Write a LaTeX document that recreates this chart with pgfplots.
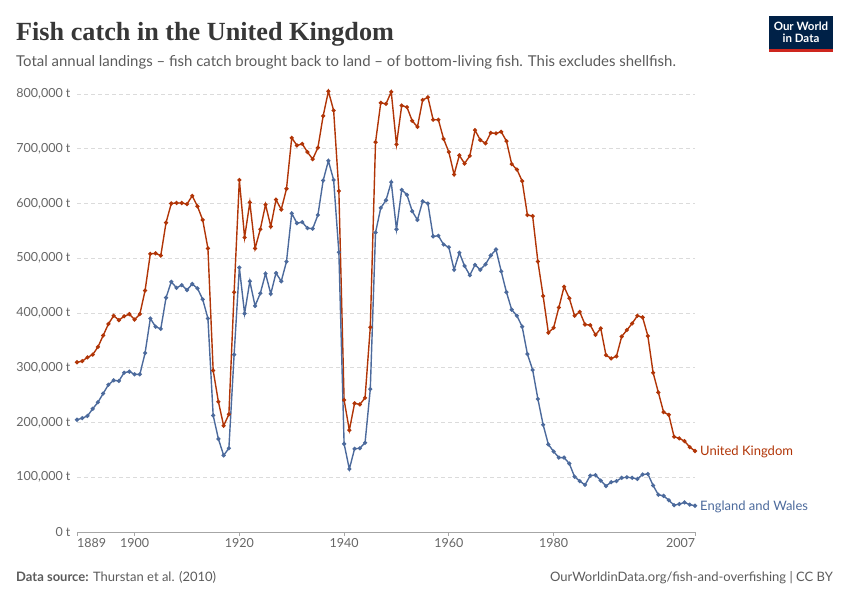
\documentclass[border=0pt]{standalone}
\usepackage{pgfplots}
\pgfplotsset{compat=1.18}
\usepackage{fontspec}
\setmainfont{Lato}
\newfontfamily\titlefont{Liberation Serif}
\definecolor{ukred}{HTML}{B13507}
\definecolor{ewblue}{HTML}{4C6A9C}
\definecolor{owidnavy}{HTML}{002147}
\definecolor{owidred}{HTML}{CE261E}
\definecolor{txtgray}{HTML}{5B5B5B}
\definecolor{tickgray}{HTML}{666666}
\definecolor{titlegray}{HTML}{373737}
\begin{document}
\begin{tikzpicture}
\path[use as bounding box] (0pt,0pt) rectangle (850pt,-600pt);
% title block
\node[anchor=base west, inner sep=0pt, text=titlegray] at (16pt,-40pt) {\titlefont\bfseries\fontsize{26.2}{30}\selectfont Fish catch in the United Kingdom};
\node[anchor=base west, inner sep=0pt, text=txtgray] at (16pt,-66pt) {\fontsize{14.95}{17}\selectfont Total annual landings -- fish catch brought back to land -- of bottom-living fish. This excludes shellfish.};
% logo
\fill[owidnavy] (769pt,-16pt) rectangle (833pt,-49pt);
\fill[owidred] (769pt,-49pt) rectangle (833pt,-51.5pt);
\node[text=white, align=center, inner sep=0pt, font=\bfseries\fontsize{11.5}{12.5}\selectfont] at (801pt,-32.5pt) {Our World\\in Data};
% footer
\node[anchor=base west, inner sep=0pt, text=txtgray] at (16pt,-581pt) {\fontsize{13}{15}\selectfont\textbf{Data source:} Thurstan et al. (2010)};
\node[anchor=base east, inner sep=0pt, text=txtgray] at (833pt,-581pt) {\fontsize{13}{15}\selectfont OurWorldinData.org/fish-and-overfishing | CC BY};
\begin{axis}[
  at={(77pt,-532pt)}, anchor=south west,
  scale only axis, width=618pt, height=438pt,
  xmin=1889, xmax=2007, ymin=0, ymax=800000,
  clip=false,
  axis x line*=bottom, axis y line*=left,
  x axis line style={-, draw=gray!70, line width=0.8pt},
  y axis line style={draw=none},
  xtick={1889,1900,1920,1940,1960,1980,2007},
  xticklabels={\rlap{1889},1900,1920,1940,1960,1980,\llap{2007}},
  tick align=outside, major tick length=4pt,
  xtick style={draw=gray!70, line width=0.8pt},
  xticklabel style={text=tickgray, font=\fontsize{12.5}{14}\selectfont, yshift=1pt},
  ytick={0,100000,200000,300000,400000,500000,600000,700000,800000},
  yticklabels={{0 t},{100,000 t},{200,000 t},{300,000 t},{400,000 t},{500,000 t},{600,000 t},{700,000 t},{800,000 t}},
  yticklabel style={text=tickgray, font=\fontsize{12.5}{14}\selectfont, anchor=east, xshift=1pt},
  scaled y ticks=false,
  ymajorgrids, grid style={draw=gray!28, line width=0.8pt, dash pattern=on 4pt off 3pt},
  ytick style={draw=none},
  every axis plot/.append style={line width=1.4pt, mark=*, mark size=1.3pt},
]
\addplot[color=ukred, mark options={fill=ukred, draw=ukred}] coordinates {
(1889,310000)(1890,312000)(1891,319000)(1892,324000)(1893,338000)(1894,359000)(1895,380000)(1896,395000)(1897,387000)(1898,394000)
(1899,398000)(1900,388000)(1901,398000)(1902,441000)(1903,508000)(1904,509000)(1905,505000)(1906,565000)(1907,600000)(1908,601000)
(1909,601000)(1910,599000)(1911,614000)(1912,595000)(1913,570000)(1914,518000)(1915,295000)(1916,238000)(1917,194000)(1918,215000)
(1919,438000)(1920,643000)(1921,538000)(1922,602000)(1923,518000)(1924,553000)(1925,598000)(1926,558000)(1927,607000)(1928,589000)
(1929,627000)(1930,720000)(1931,706000)(1932,709000)(1933,694000)(1934,681000)(1935,702000)(1936,760000)(1937,805000)(1938,770000)
(1939,623000)(1940,241000)(1941,186000)(1942,235000)(1943,233000)(1944,245000)(1945,374000)(1946,712000)(1947,784000)(1948,782000)
(1949,804000)(1950,708000)(1951,779000)(1952,776000)(1953,751000)(1954,740000)(1955,789000)(1956,794000)(1957,753000)(1958,753000)
(1959,718000)(1960,694000)(1961,653000)(1962,688000)(1963,673000)(1964,687000)(1965,734000)(1966,716000)(1967,710000)(1968,729000)
(1969,728000)(1970,731000)(1971,714000)(1972,672000)(1973,662000)(1974,641000)(1975,579000)(1976,577000)(1977,494000)(1978,431000)
(1979,364000)(1980,373000)(1981,410000)(1982,448000)(1983,427000)(1984,395000)(1985,402000)(1986,379000)(1987,378000)(1988,360000)
(1989,372000)(1990,323000)(1991,317000)(1992,321000)(1993,357000)(1994,369000)(1995,381000)(1996,395000)(1997,392000)(1998,358000)
(1999,291000)(2000,255000)(2001,219000)(2002,214000)(2003,174000)(2004,171000)(2005,166000)(2006,155000)(2007,148000)
};
\addplot[color=ewblue, mark options={fill=ewblue, draw=ewblue}] coordinates {
(1889,205000)(1890,208000)(1891,212000)(1892,225000)(1893,237000)(1894,253000)(1895,269000)(1896,277000)(1897,276000)(1898,291000)
(1899,293000)(1900,288000)(1901,288000)(1902,327000)(1903,390000)(1904,375000)(1905,371000)(1906,428000)(1907,457000)(1908,446000)
(1909,451000)(1910,442000)(1911,453000)(1912,445000)(1913,425000)(1914,390000)(1915,213000)(1916,170000)(1917,140000)(1918,153000)
(1919,324000)(1920,483000)(1921,399000)(1922,458000)(1923,413000)(1924,436000)(1925,472000)(1926,435000)(1927,473000)(1928,458000)
(1929,494000)(1930,582000)(1931,564000)(1932,566000)(1933,555000)(1934,554000)(1935,579000)(1936,642000)(1937,678000)(1938,643000)
(1939,511000)(1940,161000)(1941,115000)(1942,152000)(1943,153000)(1944,163000)(1945,261000)(1946,547000)(1947,592000)(1948,606000)
(1949,639000)(1950,553000)(1951,625000)(1952,616000)(1953,586000)(1954,570000)(1955,604000)(1956,600000)(1957,540000)(1958,541000)
(1959,525000)(1960,520000)(1961,479000)(1962,510000)(1963,486000)(1964,469000)(1965,488000)(1966,479000)(1967,489000)(1968,505000)
(1969,516000)(1970,476000)(1971,438000)(1972,406000)(1973,395000)(1974,375000)(1975,325000)(1976,296000)(1977,243000)(1978,196000)
(1979,160000)(1980,147000)(1981,136000)(1982,136000)(1983,125000)(1984,101000)(1985,93000)(1986,86000)(1987,103000)(1988,104000)
(1989,94000)(1990,84000)(1991,91000)(1992,93000)(1993,99000)(1994,100000)(1995,99000)(1996,97000)(1997,105000)(1998,106000)
(1999,85000)(2000,68000)(2001,66000)(2002,58000)(2003,49000)(2004,51000)(2005,54000)(2006,50000)(2007,48000)
};
\node[anchor=west, text=ukred, inner sep=0pt, font=\fontsize{13}{15}\selectfont] at (axis cs:2007,146000) {\hspace{5pt}United Kingdom};
\node[anchor=west, text=ewblue, inner sep=0pt, font=\fontsize{13}{15}\selectfont] at (axis cs:2007,46000) {\hspace{5pt}England and Wales};
\end{axis}
\end{tikzpicture}
\end{document}
